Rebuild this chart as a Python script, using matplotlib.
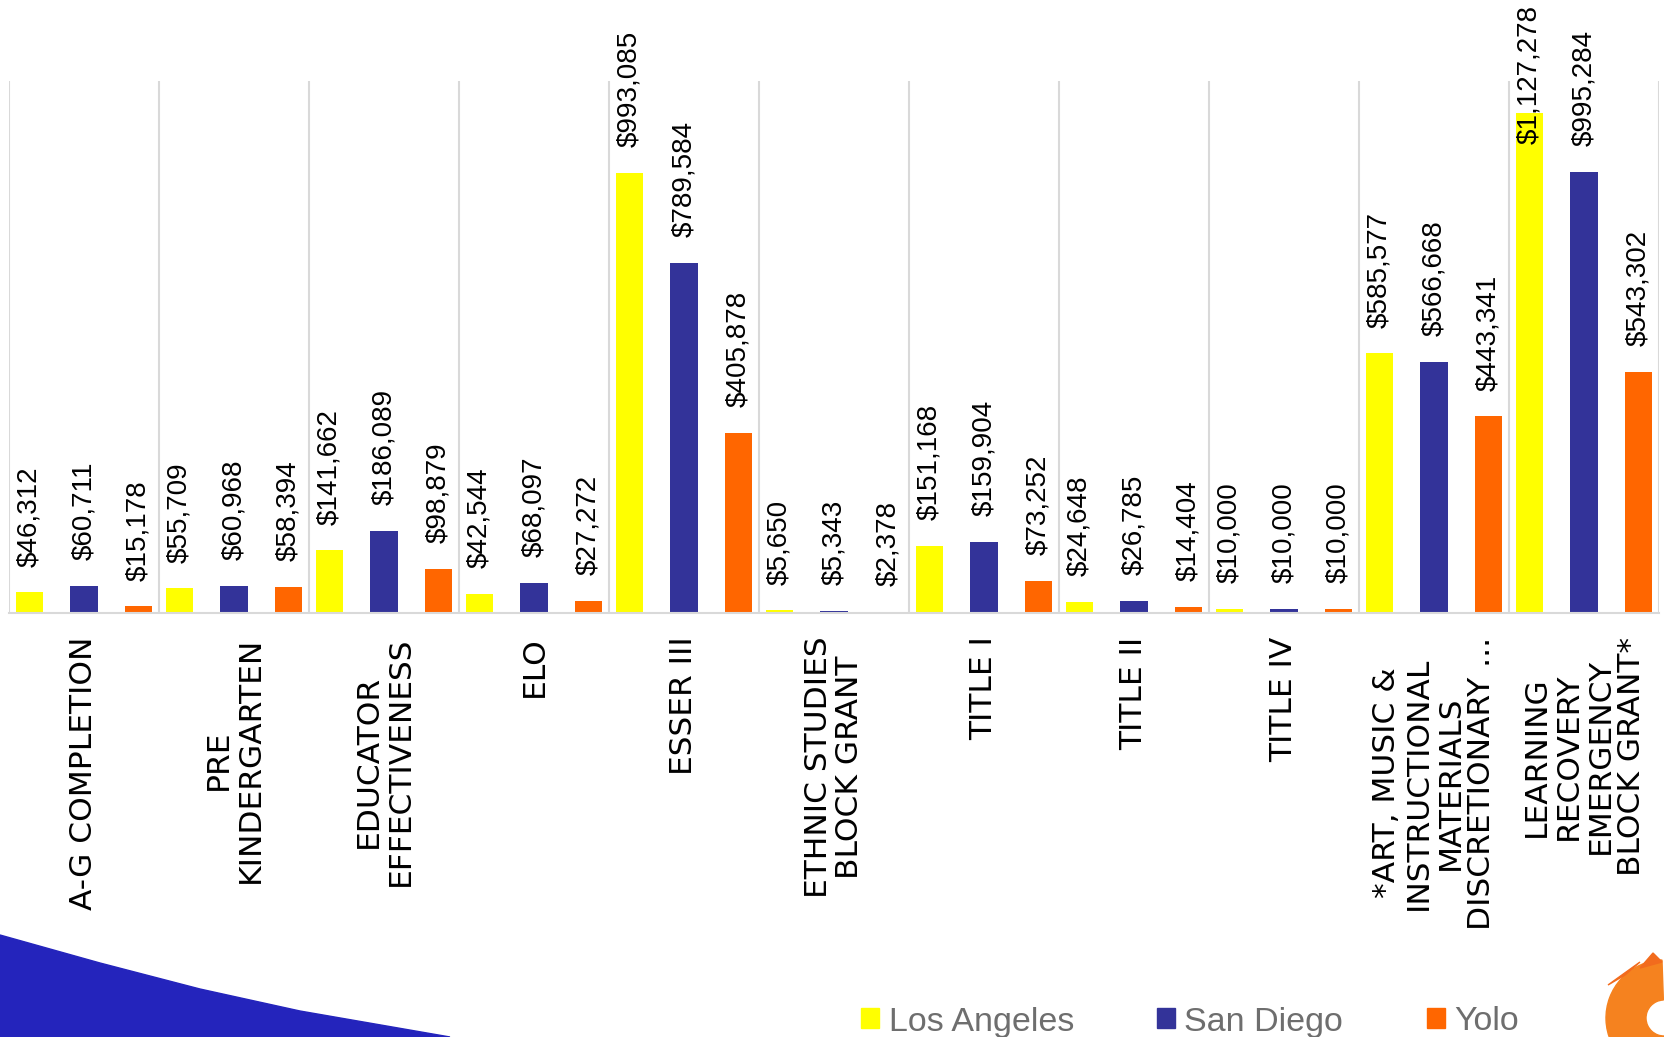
import numpy as np
import matplotlib
matplotlib.use('Agg')
import matplotlib.pyplot as plt
from matplotlib.patches import Patch, Polygon, Wedge

# data
categories = [
    "A-G COMPLETION",
    "PRE\nKINDERGARTEN",
    "EDUCATOR\nEFFECTIVENESS",
    "ELO",
    "ESSER III",
    "ETHNIC STUDIES\nBLOCK GRANT",
    "TITLE I",
    "TITLE II",
    "TITLE IV",
    "*ART, MUSIC &\nINSTRUCTIONAL\nMATERIALS\nDISCRETIONARY ...",
    "LEARNING\nRECOVERY\nEMERGENCY\nBLOCK GRANT*",
]
series_names = ["Los Angeles", "San Diego", "Yolo"]
los_angeles = [46312, 55709, 141662, 42544, 993085, 5650, 151168, 24648, 10000, 585577, 1127278]
san_diego = [60711, 60968, 186089, 68097, 789584, 5343, 159904, 26785, 10000, 566668, 995284]
yolo = [15178, 58394, 98879, 27272, 405878, 2378, 73252, 14404, 10000, 443341, 543302]
colors = ["#FFFF00", "#333399", "#FF6600"]

W, H = 1664, 1037
fig = plt.figure(figsize=(W / 100, H / 100), dpi=100)
ax = fig.add_axes([9 / W, 1 - 613 / H, 1650 / W, (613 - 81) / H])

x = np.arange(len(categories)) + 0.5
offsets = [-0.362, 0.0, 0.362]
texts = []
for vals, off, col in zip([los_angeles, san_diego, yolo], offsets, colors):
    bars = ax.bar(x + off, vals, width=0.182, color=col, zorder=2)
    for b, v in zip(bars, vals):
        t = ax.annotate(f"${v:,}", xy=(b.get_x() + b.get_width() / 2, v),
                        xytext=(0, 18.5), textcoords='offset points',
                        rotation=90, ha='center', va='bottom',
                        fontsize=20, family='Liberation Sans', color='black',
                        zorder=4, annotation_clip=False)
        texts.append(t)

ax.set_xlim(0, len(categories))
ax.set_ylim(0, 1200000)
ax.set_yticks([])
ax.set_xticks(np.arange(len(categories) + 1), minor=True)
ax.grid(which='minor', axis='x', color='#d9d9d9', linewidth=1.5, zorder=0)
ax.set_xticks(x, categories, rotation=90, fontsize=22.5, family='DejaVu Sans',
              linespacing=1.12, multialignment='center')
ax.tick_params(axis='x', which='both', length=0, pad=17)
for s in ['top', 'left', 'right']:
    ax.spines[s].set_visible(False)
ax.spines['bottom'].set_color('#d9d9d9')
ax.spines['bottom'].set_linewidth(1.5)

# legend
handles = [Patch(color=c, label=n) for c, n in zip(colors, series_names)]
leg = fig.legend(handles=handles, loc='center', bbox_to_anchor=(1190 / W, 1 - 1022 / H),
                 ncol=3, frameon=False, handlelength=0.53,
                 handleheight=0.53, handletextpad=0.27, columnspacing=2.45,
                 prop={'family': 'Liberation Sans', 'size': 24.5})
for t in leg.get_texts():
    t.set_color('#6e6e6e')

# blue swoosh, bottom left
sw = [(0, 935), (100, 963), (200, 989), (300, 1011), (450, 1037), (0, 1037)]
fig.patches.append(Polygon([(px / W, 1 - py / H) for px, py in sw], closed=True,
                           transform=fig.transFigure, color='#2424BC', zorder=0))

# orange swirl, bottom right
fig.patches.append(Wedge((1664, H - 1018), 58, 92, 272, width=40,
                         transform=None, color='#F5821F', zorder=1))
fig.patches.append(Polygon([(1608, H - 985), (1640, H - 962), (1625, H - 975)], closed=True,
                           transform=None, color='#F26B1D', zorder=1))
fig.patches.append(Polygon([(1640, H - 968), (1653, H - 953), (1662, H - 962)], closed=True,
                           transform=None, color='#F26B1D', zorder=1))

# keep labels inside the figure
fig.canvas.draw()
r = fig.canvas.get_renderer()
for t in texts:
    bb = t.get_window_extent(r)
    over = bb.y1 - (fig.bbox.height - 5)
    if over > 0:
        t.xyann = (0, t.xyann[1] - over * 72 / fig.dpi)

fig.savefig("out.png", dpi=100)
